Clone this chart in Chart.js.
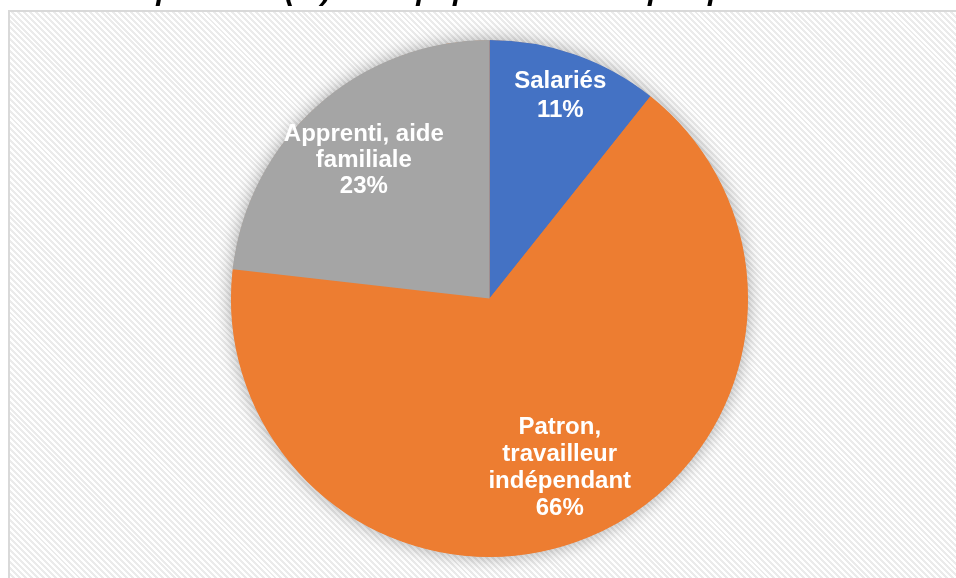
<!DOCTYPE html>
<html>
<head>
<meta charset="utf-8">
<script src="https://cdn.jsdelivr.net/npm/chart.js@4/dist/chart.umd.min.js"></script>
<style>
  html, body { margin: 0; padding: 0; background: #ffffff; width: 956px; height: 578px; overflow: hidden; }
  #box {
    position: absolute; left: 8px; top: 10px; width: 960px; height: 600px;
    border: 2px solid #d9d9d9; box-sizing: border-box;
    background: repeating-linear-gradient(45deg, #ffffff 0px, #ffffff 2.1px, #ebebeb 2.1px, #ebebeb 4.2px);
  }
  #c { position: absolute; left: 0; top: 0; }
</style>
</head>
<body>
<div id="box"></div>
<canvas id="c" width="956" height="578"></canvas>
<script>
const titleText = "Répartition (%) de la population occupée par statut";
const categories = [["Salariés"], ["Patron,", "travailleur", "indépendant"], ["Apprenti, aide", "familiale"]];
const values = [10.7, 66.1, 23.2];
const colors = ["#4472C4", "#ED7D31", "#A5A5A5"];

const total = values.reduce((a, b) => a + b, 0);

const shadowPlugin = {
  id: 'pieShadow',
  beforeDatasetsDraw(chart) {
    const arc = chart.getDatasetMeta(0).data[0];
    if (!arc) return;
    const ctx = chart.ctx;
    ctx.save();
    ctx.shadowColor = 'rgba(0,0,0,0.35)';
    ctx.shadowBlur = 18;
    ctx.shadowOffsetX = 0;
    ctx.shadowOffsetY = 0;
    ctx.fillStyle = '#ED7D31';
    ctx.beginPath();
    ctx.arc(arc.x, arc.y, arc.outerRadius - 0.5, 0, Math.PI * 2);
    ctx.fill();
    ctx.restore();
  }
};

const labelPlugin = {
  id: 'sliceLabels',
  afterDatasetsDraw(chart, args, opts) {
    const ctx = chart.ctx;
    const meta = chart.getDatasetMeta(0);
    ctx.save();
    ctx.fillStyle = '#ffffff';
    ctx.font = 'bold 24px "Liberation Sans", Arial, sans-serif';
    ctx.textAlign = 'center';
    ctx.textBaseline = 'middle';
    meta.data.forEach((arc, i) => {
      const mid = (arc.startAngle + arc.endAngle) / 2;
      const r = arc.outerRadius * opts.fractions[i];
      const cx = arc.x + Math.cos(mid) * r;
      const cy = arc.y + Math.sin(mid) * r + opts.dy[i];
      const lines = categories[i].concat([Math.round(values[i] / total * 100) + '%']);
      const lh = opts.lineHeights[i];
      const y0 = cy - (lines.length - 1) * lh / 2;
      lines.forEach((t, k) => ctx.fillText(t, cx, y0 + k * lh));
    });
    ctx.restore();
  }
};

const titlePlugin = {
  id: 'cutTitle',
  afterDraw(chart) {
    const ctx = chart.ctx;
    ctx.save();
    ctx.fillStyle = '#000000';
    ctx.font = 'italic bold 30px "Liberation Sans", Arial, sans-serif';
    ctx.textAlign = 'left';
    ctx.textBaseline = 'alphabetic';
    ctx.fillText(titleText, 118, 0);
    ctx.restore();
  }
};

new Chart(document.getElementById('c'), {
  type: 'pie',
  data: {
    labels: categories.map(l => l.join(' ')),
    datasets: [{
      data: values,
      backgroundColor: colors,
      borderWidth: 0
    }]
  },
  options: {
    responsive: false,
    devicePixelRatio: 1,
    animation: false,
    layout: { padding: { left: 231, right: 208, top: 40, bottom: 21 } },
    plugins: {
      legend: { display: false },
      tooltip: { enabled: false },
      title: { display: false },
      sliceLabels: { fractions: [0.83, 0.71, 0.73], dy: [0, 0, 3], lineHeights: [29, 27, 26] }
    }
  },
  plugins: [shadowPlugin, labelPlugin, titlePlugin]
});
</script>
</body>
</html>
